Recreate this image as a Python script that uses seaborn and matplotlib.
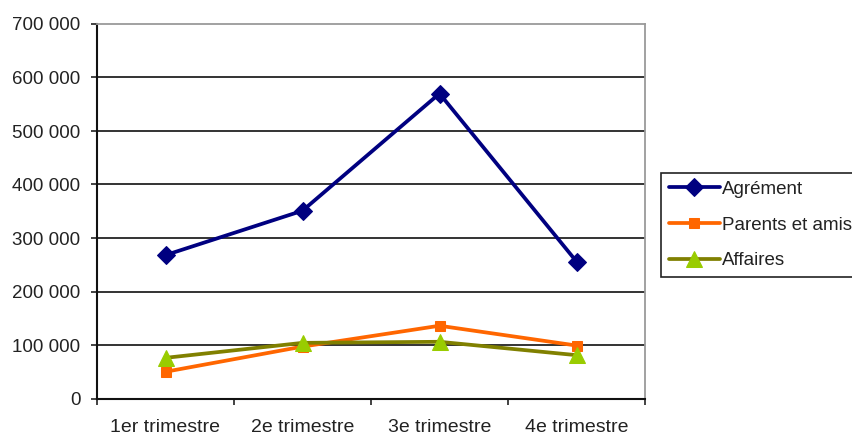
import matplotlib
matplotlib.use("Agg")
import matplotlib.pyplot as plt
from matplotlib.ticker import FuncFormatter, FixedLocator
import seaborn as sns
import pandas as pd

# Quarterly figures per travel motive
categories = ["1er trimestre", "2e trimestre", "3e trimestre", "4e trimestre"]
agrement = [268000, 351000, 570000, 256000]
parents_amis = [50000, 97000, 136000, 99000]
affaires = [76000, 104000, 106000, 81000]

series_names = ["Agrément", "Parents et amis", "Affaires"]
series_values = [agrement, parents_amis, affaires]

y_ticks = [0, 100000, 200000, 300000, 400000, 500000, 600000, 700000]

sns.set_theme(style="white")
plt.rcParams["font.family"] = ["Liberation Sans", "DejaVu Sans"]

fig = plt.figure(figsize=(8.52, 4.36), dpi=100)
ax = fig.add_axes([97 / 852, 1 - 398.5 / 436, (645 - 97) / 852, (398.5 - 24) / 436])

styles = {
    "Agrément": dict(color="#000080", marker="D", markersize=9.5,
                     markerfacecolor="#000080", markeredgecolor="#000080"),
    "Parents et amis": dict(color="#FF6600", marker="s", markersize=7.5,
                            markerfacecolor="#FF6600", markeredgecolor="#FF6600"),
    "Affaires": dict(color="#808000", marker="^", markersize=12,
                     markerfacecolor="#99CC00", markeredgecolor="#99CC00"),
}

frames = []
for name, vals in zip(series_names, series_values):
    frames.append(pd.DataFrame({"trimestre": categories, "valeur": vals, "motif": name}))
df = pd.concat(frames, ignore_index=True)

for name in series_names:
    sub = df[df["motif"] == name]
    sns.lineplot(data=sub, x="trimestre", y="valeur", ax=ax, sort=False,
                 linewidth=2.7, label=name, zorder=3, **styles[name])

ax.set_xlim(-0.5, len(categories) - 0.5)
ax.set_ylim(0, 700000)
ax.set_xlabel("")
ax.set_ylabel("")

ax.yaxis.set_major_locator(FixedLocator(y_ticks))
ax.yaxis.set_major_formatter(FuncFormatter(lambda v, p: f"{int(v):,}".replace(",", " ")))
ax.set_xticks(range(len(categories)))
ax.set_xticklabels(categories)
ax.xaxis.set_minor_locator(FixedLocator([i - 0.5 for i in range(len(categories) + 1)]))

ax.tick_params(axis="x", which="major", length=0, pad=14.5, labelsize=14, labelcolor="#222222")
ax.tick_params(axis="x", which="minor", bottom=True, length=4, width=1.2, color="#222222", direction="out")
ax.tick_params(axis="y", which="major", left=True, length=4, width=1.2, color="#222222",
               pad=8, labelsize=13.5, labelcolor="#222222")

for y in y_ticks[1:-1]:
    ax.axhline(y, color="#333333", linewidth=1.4, zorder=1)

for side in ["left", "bottom"]:
    ax.spines[side].set_color("#111111")
    ax.spines[side].set_linewidth(1.5)
for side in ["top", "right"]:
    ax.spines[side].set_color("#9a9a9a")
    ax.spines[side].set_linewidth(1.3)

leg = ax.legend(loc="upper left", bbox_to_anchor=(661 / 852, 1 - 173 / 436),
                bbox_transform=fig.transFigure, frameon=True, fancybox=False,
                framealpha=1, edgecolor="#222222", fontsize=13.5,
                handlelength=2.75, handletextpad=0.12, labelspacing=1.0,
                borderpad=0.4, borderaxespad=0)
leg.get_frame().set_linewidth(1.2)
for t in leg.get_texts():
    t.set_color("#222222")

fig.savefig("out.png", dpi=100)
